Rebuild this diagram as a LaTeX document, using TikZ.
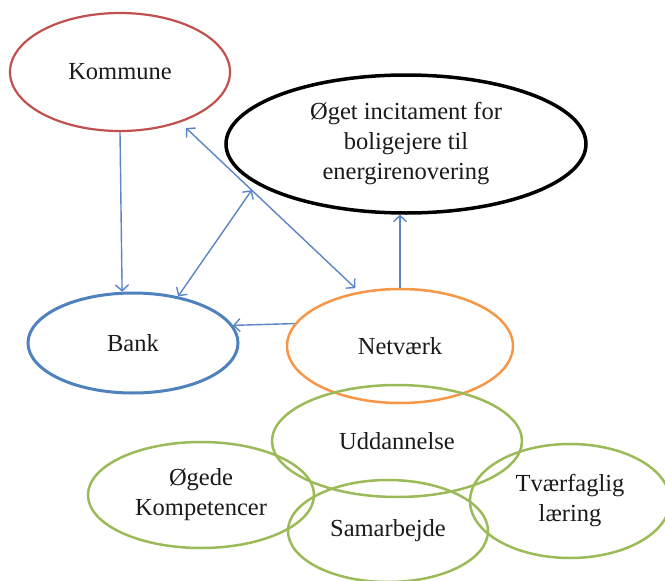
\documentclass[tikz,border=0pt]{standalone}
\usepackage{fontspec}
\setmainfont{Liberation Serif}
\usetikzlibrary{shapes.geometric,arrows.meta,calc}
\definecolor{kred}{HTML}{C0504D}
\definecolor{bblue}{HTML}{4F81BD}
\definecolor{abl}{HTML}{5B86C5}
\definecolor{ornge}{HTML}{F79646}
\definecolor{grn}{HTML}{9BBB59}
\definecolor{txt}{HTML}{1A1A1A}
\begin{document}
\begin{tikzpicture}[x=1pt,y=-1pt,
  ell/.style={ellipse,draw,line width=2.5pt,inner sep=0pt,align=center,text=txt,
    font=\fontsize{24.5}{30}\selectfont},
  arr/.style={draw=abl,line width=1.4pt,-{Straight Barb[length=6pt,width=13pt]}},
  darr/.style={draw=abl,line width=1.4pt,{Straight Barb[length=6pt,width=13pt]}-{Straight Barb[length=6pt,width=13pt]}}]
\useasboundingbox (0,0) rectangle (665,581);
\node[ell,draw=kred,line width=2.2pt,minimum width=220pt,minimum height=118pt] (kom) at (120,72) {Kommune};
\node[ell,draw=black,line width=3.5pt,minimum width=360pt,minimum height=138pt] (inc) at (406,144) {Øget incitament for\\boligejere til\\energirenovering};
\node[ell,draw=bblue,line width=3pt,minimum width=210pt,minimum height=100pt] (bank) at (133,343) {Bank};
\node[ell,draw=ornge,minimum width=226pt,minimum height=114pt] (net) at (400,346) {Netværk};
\node[ell,draw=grn,minimum width=250pt,minimum height=112pt] (udd) at (397,441) {Uddannelse};
\node[ell,draw=grn,minimum width=226pt,minimum height=106pt] (oeg) at (201,495) {Øgede\\Kompetencer};
\node[ell,draw=grn,minimum width=200pt,minimum height=102pt] (sam) at (388,531) {Samarbejde};
\node[ell,draw=grn,minimum width=200pt,minimum height=114pt] (tvf) at (570,501) {Tværfaglig\\læring};
% connectors
\draw[arr] (kom.south) -- (bank.102);
\draw[darr,shorten <=8pt,shorten >=5pt] (kom.320) -- (net.127);
\coordinate (mid) at ($(kom.320)!0.4!(net.127)$);
\draw[darr] (bank.46) -- (mid);
\draw[arr] (net.north) -- (net.north |- inc.south);
\draw[arr] (net.168) -- (bank.10);
\end{tikzpicture}
\end{document}
